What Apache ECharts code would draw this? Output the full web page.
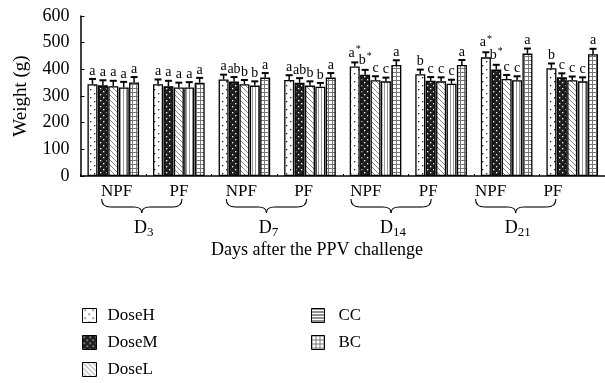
<!DOCTYPE html>
<html>
<head>
<meta charset="utf-8">
<script src="https://cdn.jsdelivr.net/npm/echarts@6/dist/echarts.min.js"></script>
<style>
  html, body { margin: 0; padding: 0; background: #fff; }
  #chart { width: 605px; height: 383px; }
</style>
</head>
<body>
<div id="chart"></div>
<script>
const categories = ["D3 NPF", "D3 PF", "D7 NPF", "D7 PF", "D14 NPF", "D14 PF", "D21 NPF", "D21 PF"];
const groupLabels = ["NPF", "PF", "NPF", "PF", "NPF", "PF", "NPF", "PF"];
const dayLabels = ["3", "7", "14", "21"];
const seriesNames = ["DoseH", "DoseM", "DoseL", "CC", "BC"];
const yTicks = [0, 100, 200, 300, 400, 500, 600];

const doseH = [344, 344, 362, 360, 411, 382, 445, 404];
const doseM = [340, 337, 354, 350, 380, 357, 399, 370];
const doseL = [337, 332, 344, 339, 359, 355, 364, 359];
const cc = [332, 332, 339, 335, 355, 346, 359, 355];
const bc = [351, 350, 369, 369, 416, 416, 459, 457];

const errH = [20, 18, 18, 18, 15, 17, 19, 18];
const errM = [19, 20, 17, 17, 18, 14, 18, 15];
const errL = [20, 18, 16, 16, 15, 15, 15, 14];
const errCC = [21, 20, 16, 14, 14, 15, 15, 15];
const errBC = [20, 18, 17, 17, 18, 19, 19, 20];

const sigH = ["a", "a", "a", "a", "a*", "b", "a*", "b"];
const sigM = ["a", "a", "ab", "ab", "b*", "c", "b*", "c"];
const sigL = ["a", "a", "b", "b", "c", "c", "c", "c"];
const sigCC = ["a", "a", "b", "b", "c", "c", "c", "c"];
const sigBC = ["a", "a", "a", "a", "a", "a", "a", "a"];

const FONT = "Liberation Serif";
const BAR_W = 10;
const BAR_GAP = 0.04;

function makePattern(size, bg, draw) {
  const c = document.createElement("canvas");
  c.width = size;
  c.height = size;
  const ctx = c.getContext("2d");
  ctx.fillStyle = bg;
  ctx.fillRect(0, 0, size, size);
  draw(ctx, size);
  return { image: c, repeat: "repeat" };
}

const patDots = makePattern(8, "#fff", (ctx) => {
  ctx.fillStyle = "#222";
  ctx.fillRect(2, 1, 1.3, 1.3);
  ctx.fillRect(6, 5, 1.3, 1.3);
});
const patDark = makePattern(6, "#1e1e1e", (ctx) => {
  ctx.fillStyle = "#fff";
  ctx.fillRect(1, 1, 1.3, 1.3);
  ctx.fillRect(4, 4, 1.3, 1.3);
});
const patDiag = makePattern(5, "#fff", (ctx, s) => {
  ctx.strokeStyle = "#666";
  ctx.lineWidth = 0.8;
  ctx.beginPath();
  ctx.moveTo(-1, -1); ctx.lineTo(s + 1, s + 1);
  ctx.moveTo(-1, s - 1); ctx.lineTo(1, s + 1);
  ctx.moveTo(s - 1, -1); ctx.lineTo(s + 1, 1);
  ctx.stroke();
});
const patVert = makePattern(3, "#fff", (ctx, s) => {
  ctx.strokeStyle = "#999";
  ctx.lineWidth = 1;
  ctx.beginPath();
  ctx.moveTo(0.5, 0); ctx.lineTo(0.5, s);
  ctx.stroke();
});
const patHoriz = makePattern(3, "#fff", (ctx, s) => {
  ctx.strokeStyle = "#222";
  ctx.lineWidth = 1;
  ctx.beginPath();
  ctx.moveTo(0, 0.5); ctx.lineTo(s, 0.5);
  ctx.stroke();
});
const patGrid = makePattern(4, "#fff", (ctx, s) => {
  ctx.strokeStyle = "#777";
  ctx.lineWidth = 1;
  ctx.beginPath();
  ctx.moveTo(0.5, 0); ctx.lineTo(0.5, s);
  ctx.moveTo(0, 0.5); ctx.lineTo(s, 0.5);
  ctx.stroke();
});

const values = [doseH, doseM, doseL, cc, bc];
const errors = [errH, errM, errL, errCC, errBC];
const sigs = [sigH, sigM, sigL, sigCC, sigBC];
const patterns = [patDots, patDark, patDiag, patVert, patGrid];

const barSeries = seriesNames.map((name, k) => ({
  name: name,
  type: "bar",
  xAxisIndex: 0,
  yAxisIndex: 0,
  barWidth: BAR_W,
  barGap: BAR_GAP * 100 + "%",
  itemStyle: { color: patterns[k], borderColor: "#000", borderWidth: 1.3 },
  data: values[k],
}));

// error bars + significance letters, placed over the matching bar
const errSeries = seriesNames.map((name, k) => ({
  type: "custom",
  xAxisIndex: 0,
  yAxisIndex: 0,
  clip: false,
  z: 5,
  data: values[k].map((v, i) => [i, v, errors[k][i]]),
  renderItem: function (params, api) {
    const n = seriesNames.length;
    const total = n * BAR_W + (n - 1) * BAR_W * BAR_GAP;
    const cx = api.coord([api.value(0), 0])[0];
    const x = cx - total / 2 + k * BAR_W * (1 + BAR_GAP) + BAR_W / 2;
    const base = api.coord([api.value(0), api.value(1)])[1];
    const top = api.coord([api.value(0), api.value(1) + api.value(2)])[1];
    const sig = sigs[k][params.dataIndex].replace("*", "{s|*}");
    return {
      type: "group",
      children: [
        { type: "line", shape: { x1: x, y1: base, x2: x, y2: top }, style: { stroke: "#000", lineWidth: 1.5 } },
        { type: "line", shape: { x1: x - 3.5, y1: top, x2: x + 3.5, y2: top }, style: { stroke: "#000", lineWidth: 2 } },
        {
          type: "text",
          x: x,
          y: top - 1,
          style: {
            text: sig,
            fontFamily: FONT,
            fontSize: 14,
            fill: "#000",
            align: "center",
            verticalAlign: "bottom",
            rich: { s: { fontFamily: FONT, fontSize: 10, padding: [0, 0, 7, 1] } },
          },
        },
      ],
    };
  },
}));

const chart = echarts.init(document.getElementById("chart"), null, { renderer: "canvas" });

chart.setOption({
  animation: false,
  textStyle: { fontFamily: FONT, color: "#000" },
  grid: [
    { left: 80.5, right: -5, top: 16, bottom: 207 },
    { left: 85.5, right: 21, top: 16, bottom: 207 },
  ],
  xAxis: [
    {
      type: "category",
      gridIndex: 0,
      data: categories,
      axisLine: { lineStyle: { color: "#000", width: 1.5 } },
      axisTick: { show: true, inside: true, length: 2, lineStyle: { color: "#000" } },
      axisLabel: { show: false },
    },
    {
      type: "category",
      gridIndex: 1,
      data: groupLabels,
      axisLine: { show: false },
      axisTick: { show: false },
      axisLabel: { margin: 7, fontSize: 17, fontFamily: FONT, color: "#000" },
    },
  ],
  yAxis: [
    {
      type: "value",
      gridIndex: 0,
      min: 0,
      max: 600,
      interval: 100,
      name: "Weight (g)",
      nameLocation: "middle",
      nameRotate: 90,
      nameGap: 50,
      nameTextStyle: { fontSize: 19, fontFamily: FONT, color: "#000" },
      axisLine: { show: true, lineStyle: { color: "#000", width: 1.5 } },
      axisTick: { show: true, inside: true, length: 4, lineStyle: { color: "#000" } },
      axisLabel: {
        margin: 11,
        fontSize: 18,
        fontFamily: FONT,
        color: "#000",
        formatter: (v) => (yTicks.includes(v) ? String(v) : ""),
      },
      splitLine: { show: false },
    },
    { type: "value", gridIndex: 1, min: 0, max: 600, show: false },
  ],
  legend: [
    {
      orient: "vertical",
      left: 77,
      top: 302,
      height: 81,
      itemWidth: 14,
      itemHeight: 14,
      itemGap: 10,
      icon: "rect",
      textStyle: { fontSize: 17, fontFamily: FONT, color: "#000", padding: [0, 0, 0, 6] },
      itemStyle: { borderColor: "#000", borderWidth: 1 },
      data: ["DoseH", "DoseM", "DoseL"],
    },
    {
      orient: "vertical",
      left: 306,
      top: 302,
      height: 81,
      itemWidth: 13,
      itemHeight: 14,
      itemGap: 10,
      icon: "rect",
      textStyle: { fontSize: 17, fontFamily: FONT, color: "#000", padding: [0, 0, 0, 9] },
      itemStyle: { borderColor: "#000", borderWidth: 1 },
      data: [
        { name: "CC", itemStyle: { color: patHoriz } },
        { name: "BC", itemStyle: { color: patGrid } },
      ],
    },
  ],
  series: [...barSeries, ...errSeries],
});

// braces and day labels below each NPF / PF pair
const graphics = [];
const braceStyle = { stroke: "#000", lineWidth: 1.1, fill: null };
dayLabels.forEach((d, g) => {
  const c0 = chart.convertToPixel({ xAxisIndex: 1 }, 2 * g);
  const c1 = chart.convertToPixel({ xAxisIndex: 1 }, 2 * g + 1);
  const x1 = c0 - 15;
  const x2 = c1 + 3;
  const xm = (x1 + x2) / 2;
  const yTop = 199, yMid = 207, yApex = 213;
  graphics.push(
    { type: "bezierCurve", shape: { x1: x1, y1: yTop, cpx1: x1, cpy1: yMid, x2: x1 + 9, y2: yMid }, style: braceStyle },
    { type: "line", shape: { x1: x1 + 9, y1: yMid, x2: xm - 8, y2: yMid }, style: braceStyle },
    { type: "bezierCurve", shape: { x1: xm - 8, y1: yMid, cpx1: xm, cpy1: yMid, x2: xm, y2: yApex }, style: braceStyle },
    { type: "bezierCurve", shape: { x1: xm, y1: yApex, cpx1: xm, cpy1: yMid, x2: xm + 8, y2: yMid }, style: braceStyle },
    { type: "line", shape: { x1: xm + 8, y1: yMid, x2: x2 - 9, y2: yMid }, style: braceStyle },
    { type: "bezierCurve", shape: { x1: x2 - 9, y1: yMid, cpx1: x2, cpy1: yMid, x2: x2, y2: yTop }, style: braceStyle }
  );
  graphics.push({
    type: "text",
    x: xm + 2,
    y: 228,
    style: {
      text: "D{sub|" + d + "}",
      fontFamily: FONT,
      fontSize: 18,
      fill: "#000",
      align: "center",
      verticalAlign: "middle",
      rich: { sub: { fontFamily: FONT, fontSize: 13, padding: [10, 0, 0, 0] } },
    },
  });
});
graphics.push({
  type: "text",
  x: 317,
  y: 250,
  style: {
    text: "Days after the PPV challenge",
    fontFamily: FONT,
    fontSize: 18,
    fill: "#000",
    align: "center",
    verticalAlign: "middle",
  },
});
chart.setOption({ graphic: graphics });
</script>
</body>
</html>
